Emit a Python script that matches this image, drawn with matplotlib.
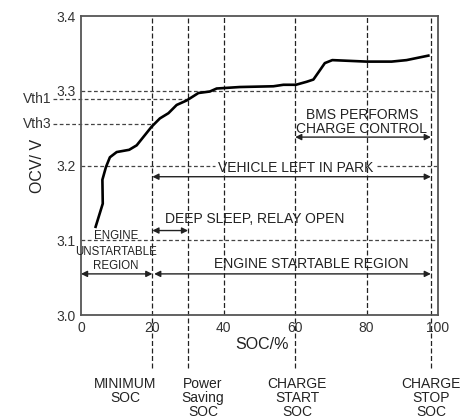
import numpy as np
import matplotlib
matplotlib.use('Agg')
from matplotlib import pyplot as plt

plt.rcParams['font.family'] = ['Liberation Sans', 'DejaVu Sans']

# OCV curve
soc = [4.1, 6.1, 6.0, 7.0, 8.1, 10.0, 13.5, 15.6, 19.8, 22.1, 24.5, 26.8, 29.6,
       32.9, 36.1, 38.0, 44.5, 53.9, 56.7, 60.2, 63.2, 65.1, 67.0, 68.3, 70.4,
       80.0, 87.0, 91.2, 97.3]
ocv = [3.118, 3.149, 3.181, 3.198, 3.211, 3.218, 3.221, 3.227, 3.252, 3.263, 3.270,
       3.281, 3.287, 3.297, 3.299, 3.303, 3.305, 3.306, 3.308, 3.308, 3.312, 3.315,
       3.328, 3.337, 3.341, 3.339, 3.339, 3.341, 3.347]

x_ticks = [0, 20, 40, 60, 80, 100]
y_ticks = [3.0, 3.1, 3.2, 3.3, 3.4]
vth_names = ['Vth1', 'Vth3']
vth_vals = [3.2886, 3.255]
vth_end = [29.8, 19.6]

soc_min = 20
soc_save = 30
soc_start = 60
soc_stop = 98

bottom_labels = ['MINIMUM\nSOC', 'Power\nSaving\nSOC', 'CHARGE\nSTART\nSOC', 'CHARGE\nSTOP\nSOC']
bottom_x = [12.3, 34.2, 60.5, 98]

fig = plt.figure(figsize=(4.73, 4.18), dpi=100)
ax = fig.add_axes([0.1712, 0.2464, 0.7548, 0.7153])
ax.set_xlim(0, 100)
ax.set_ylim(3.0, 3.4)

for s in ax.spines.values():
    s.set_color('#555555')
    s.set_linewidth(1.3)

ax.set_xticks(x_ticks)
ax.set_yticks(y_ticks)
ax.set_yticklabels(['%.1f' % v for v in y_ticks])
ax.tick_params(length=0, labelsize=10, colors='#333333', pad=4)

dash_h = dict(color='#444444', lw=0.9, ls=(0, (3, 2)))
dash_v = dict(color='#222222', lw=0.9, ls=(0, (4, 2)))

# horizontal grid lines
ax.plot([0, 100], [3.3, 3.3], **dash_h)
ax.plot([0, 100], [3.1, 3.1], **dash_h)
ax.plot([0, 37.5], [3.2, 3.2], **dash_h)
ax.plot([83, 100], [3.2, 3.2], **dash_h)

# threshold lines
for name, v, e in zip(vth_names, vth_vals, vth_end):
    ax.plot([-7.8, e], [v, v], clip_on=False, **dash_h)
    ax.text(-8.3, v, name, ha='right', va='center', fontsize=10, color='#333333')

# vertical lines
for x in [40, 80]:
    ax.plot([x, x], [3.0, 3.4], **dash_v)
for x in [soc_min, soc_save, soc_start, soc_stop]:
    ax.plot([x, x], [2.929, 3.4], clip_on=False, **dash_v)

ax.plot(soc, ocv, color='black', lw=1.9, solid_joinstyle='round')

arrow = dict(arrowstyle='<|-|>', color='#222222', lw=1.0, mutation_scale=9,
             shrinkA=0, shrinkB=0)


def span(x0, x1, y):
    ax.annotate('', xy=(x1, y), xytext=(x0, y), arrowprops=arrow)


span(soc_start, soc_stop, 3.238)
span(soc_min, soc_stop, 3.185)
span(soc_min, soc_save, 3.113)
span(0, soc_min, 3.055)
span(soc_min + 0.5, soc_stop, 3.055)

tc = '#222222'
ax.text(78.9, 3.2618, 'BMS PERFORMS', ha='center', va='baseline', fontsize=10, color=tc)
ax.text(78.6, 3.243, 'CHARGE CONTROL', ha='center', va='baseline', fontsize=10, color=tc)
ax.text(60.1, 3.1917, 'VEHICLE LEFT IN PARK', ha='center', va='baseline', fontsize=10, color=tc)
ax.text(23.5, 3.1227, 'DEEP SLEEP, RELAY OPEN', ha='left', va='baseline', fontsize=10, color=tc)
ax.text(64.4, 3.0625, 'ENGINE STARTABLE REGION', ha='center', va='baseline', fontsize=10, color=tc)
ax.text(9.8, 3.1013, 'ENGINE', ha='center', va='baseline', fontsize=8.3, color=tc)
ax.text(9.8, 3.0806, 'UNSTARTABLE', ha='center', va='baseline', fontsize=8.3, color=tc)
ax.text(9.8, 3.0615, 'REGION', ha='center', va='baseline', fontsize=8.3, color=tc)

for lab, x in zip(bottom_labels, bottom_x):
    ax.text(x, 2.917, lab, ha='center', va='top', fontsize=10, color=tc,
            linespacing=1.0, clip_on=False)

ax.set_xlabel('SOC/%', fontsize=11.5, color=tc)
ax.set_ylabel('OCV/ V', fontsize=11.5, color=tc)
ax.xaxis.set_label_coords(0.507, -0.075)
ax.yaxis.set_label_coords(-0.10, 0.5)

fig.savefig('out.png', dpi=100)
